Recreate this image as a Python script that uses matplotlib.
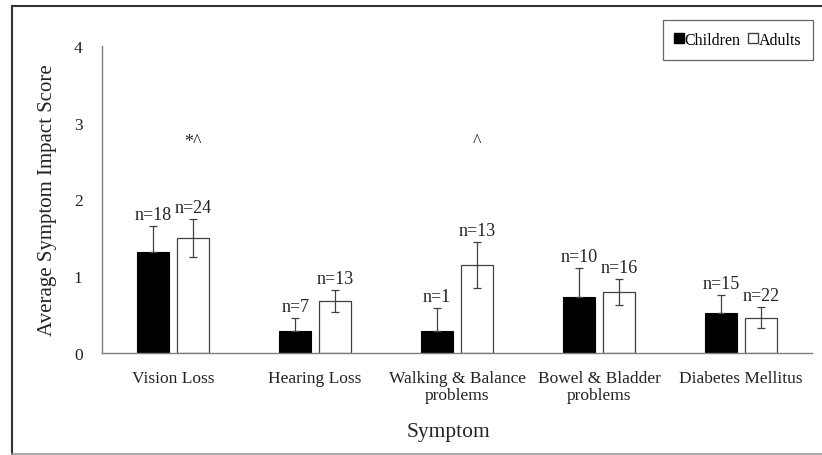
import matplotlib
matplotlib.use('Agg')
import matplotlib.pyplot as plt
from matplotlib.lines import Line2D
import numpy as np

symptoms = ['Vision Loss', 'Hearing Loss', 'Walking & Balance\nproblems',
            'Bowel & Bladder\nproblems', 'Diabetes Mellitus']
children = [1.32, 0.29, 0.29, 0.73, 0.52]
children_err = [0.33, 0.17, 0.29, 0.38, 0.23]
children_n = [18, 7, 1, 10, 15]
adults = [1.50, 0.68, 1.15, 0.79, 0.46]
adults_err = [0.25, 0.14, 0.30, 0.17, 0.14]
adults_n = [24, 13, 13, 16, 22]
marks = ['*^', '', '^', '', '']
mark_y = 2.75

plt.rcParams['font.family'] = ['Liberation Serif', 'DejaVu Serif']

W, H = 822, 456
fig = plt.figure(figsize=(W / 100, H / 100), dpi=100)
ax = fig.add_axes([102 / W, 1 - 354 / H, 710 / W, (354 - 47) / H])

x = np.arange(len(symptoms))
width = 0.225
off = 0.14
grey = '#7f7f7f'
txt = '#222222'

ax.bar(x - off, children, width, color='black', edgecolor='black', linewidth=0.8)
ax.bar(x + off, adults, width, color='white', edgecolor='#404040', linewidth=0.9)
# children: only the upper half shows above the black bar
ax.errorbar(x - off, children, yerr=[np.zeros(len(children)), children_err],
            fmt='none', ecolor='#404040', elinewidth=0.9, capsize=3, capthick=0.9)
ax.errorbar(x + off, adults, yerr=adults_err, fmt='none', ecolor='#404040',
            elinewidth=0.9, capsize=3, capthick=0.9)

for i in range(len(symptoms)):
    ax.text(x[i] - off, children[i] + children_err[i] + 0.04, f'n={children_n[i]}',
            ha='center', va='bottom', fontsize=13, color=txt)
    ax.text(x[i] + off, adults[i] + adults_err[i] + 0.04, f'n={adults_n[i]}',
            ha='center', va='bottom', fontsize=13, color=txt)
    if marks[i]:
        ax.text(x[i] + off, mark_y, marks[i], ha='center', va='center',
                fontsize=13, color=txt)

ax.set_xlim(-0.5, len(symptoms) - 0.5)
ax.set_ylim(0, 4)
ax.set_yticks([0, 1, 2, 3, 4])
ax.set_xticks(x)
ax.set_xticklabels(symptoms, fontsize=12.5, color=txt, linespacing=1.1)
ax.tick_params(axis='both', length=0, labelsize=12.5, colors=txt)
ax.tick_params(axis='y', pad=14)
ax.tick_params(axis='x', pad=12)
for s in ['top', 'right']:
    ax.spines[s].set_visible(False)
for s in ['left', 'bottom']:
    ax.spines[s].set_color(grey)
    ax.spines[s].set_linewidth(1.0)

ax.set_ylabel('Average Symptom Impact Score', fontsize=15, color=txt, labelpad=12)
fig.text(448 / W, 1 - 433 / H, 'Symptom', ha='center', va='center',
         fontsize=15.5, color=txt)

handles = [Line2D([], [], marker='s', linestyle='none', markersize=7.5,
                  markerfacecolor='black', markeredgecolor='black'),
           Line2D([], [], marker='s', linestyle='none', markersize=7.5,
                  markerfacecolor='white', markeredgecolor='#404040')]
leg = fig.legend(handles, ['Children', 'Adults'], loc='upper right',
                 bbox_to_anchor=(813 / W, 1 - 21 / H), ncol=2, fontsize=11.5,
                 frameon=True, fancybox=False, edgecolor='#404040',
                 handlelength=0.5, handletextpad=0.1, columnspacing=0.5,
                 borderpad=0.75, borderaxespad=0)
leg.get_frame().set_linewidth(0.9)

# outer frame
fx0, fy0, fy1 = 12 / W, 1 - 455 / H, 1 - 7 / H
fig.add_artist(Line2D([fx0, fx0], [fy0, fy1], color='#333333', lw=1.5))
fig.add_artist(Line2D([fx0, 1.0], [fy1, fy1], color='#333333', lw=1.5))
fig.add_artist(Line2D([fx0, 1.0], [fy0, fy0], color='#999999', lw=1.2))

fig.savefig('out.png', dpi=100)
plt.close(fig)
